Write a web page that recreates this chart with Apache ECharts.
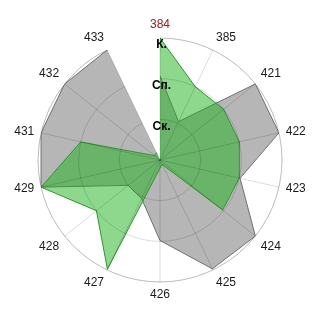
<!DOCTYPE html>
<html>
<head>
<meta charset="utf-8">
<script src="https://cdn.jsdelivr.net/npm/echarts@6/dist/echarts.min.js"></script>
<style>html,body{margin:0;padding:0;background:#fff;}#c{width:320px;height:320px;}</style>
</head>
<body>
<div id="c"></div>
<script>
var categories = ['384','385','421','422','423','424','425','426','427','428','429','431','432','433'];
var greyValues = [2.07, 1.05, 3.0, 3.0, 2.02, 3.0, 2.97, 1.98, 1.05, 1.0, 3.0, 3.0, 3.0, 3.0];
var greenValues = [3.0, 2.0, 2.0, 2.0, 2.0, 1.97, 0.12, 0.2, 2.98, 2.0, 3.0, 2.0, 0.17, 0.2];
var radialLabels = ['', 'Ск.', 'Сп.', 'К.'];
var highlightCategory = '384';

function closedPolygon(values) {
  var pts = values.map(function (v, i) { return [v, i]; });
  pts.push([values[0], 0]);
  return pts;
}

var gridColor = 'rgba(0,0,0,0.14)';
var chart = echarts.init(document.getElementById('c'), null, {renderer: 'canvas'});
chart.setOption({
  animation: false,
  backgroundColor: '#ffffff',
  polar: { center: ['50%', '50%'], radius: 122 },
  angleAxis: {
    type: 'category',
    data: categories.map(function (c) {
      return c === highlightCategory ? {value: c, textStyle: {color: '#a01818'}} : c;
    }),
    startAngle: 90,
    clockwise: true,
    boundaryGap: false,
    z: 10,
    axisLine: { lineStyle: { color: gridColor, width: 1 } },
    axisTick: { show: false },
    splitLine: { show: true, lineStyle: { color: gridColor, width: 1 } },
    axisLabel: { color: '#1a1a1a', fontSize: 12, fontFamily: 'Liberation Sans, Arial, sans-serif', margin: 7 }
  },
  radiusAxis: {
    type: 'value',
    min: 0, max: 3, interval: 1,
    z: 11,
    axisLine: { show: false },
    axisTick: { show: false },
    splitLine: { show: true, lineStyle: { color: gridColor, width: 1 } },
    axisLabel: {
      formatter: function (v) { return radialLabels[Math.round(v)] || ''; },
      color: '#000', fontWeight: 'bold', fontSize: 12,
      fontFamily: 'Liberation Sans, Arial, sans-serif',
      margin: 0, align: 'center', verticalAlign: 'top', padding: [1, 0, 0, 3]
    }
  },
  series: [
    {
      type: 'line', coordinateSystem: 'polar',
      data: closedPolygon(greyValues),
      symbol: 'none',
      lineStyle: { color: '#707070', width: 1 },
      areaStyle: { color: 'rgba(110,110,110,0.5)', opacity: 1, origin: 'start' },
      z: 2
    },
    {
      type: 'line', coordinateSystem: 'polar',
      data: closedPolygon(greenValues),
      symbol: 'none',
      lineStyle: { color: '#2f962f', width: 1 },
      areaStyle: { color: 'rgba(30,178,30,0.5)', opacity: 1, origin: 'start' },
      z: 3
    }
  ]
});
</script>
</body>
</html>
